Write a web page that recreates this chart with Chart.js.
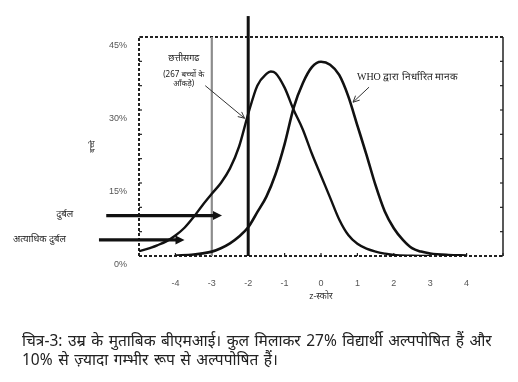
<!DOCTYPE html>
<html>
<head>
<meta charset="utf-8">
<script src="https://cdn.jsdelivr.net/npm/chart.js@4.4.1/dist/chart.umd.min.js"></script>
<style>
  html, body { margin: 0; padding: 0; background: #fff; }
  #wrap { position: relative; width: 518px; height: 382px; }
  #caption { position: absolute; left: 22px; top: 331px; font-family: "Noto Sans", "DejaVu Sans", sans-serif; font-size: 15.5px; line-height: 19px; word-spacing: 1.5px; color: #222; white-space: nowrap; }
</style>
</head>
<body>
<div id="wrap">
  <canvas id="c" width="518" height="382"></canvas>
  <div id="caption">चित्र-3: उम्र के मुताबिक बीएमआई। कुल मिलाकर 27% विद्यार्थी अल्पपोषित हैं और<br>10% से ज़्यादा गम्भीर रूप से अल्पपोषित हैं।</div>
</div>
<script>
// ---- data ----
const whoZ      = [-4, -3.5, -3, -2.75, -2.5, -2.25, -2, -1.75, -1.5, -1.25, -1, -0.75, -0.5, -0.25, 0, 0.25, 0.5, 0.75, 1, 1.25, 1.5, 1.75, 2, 2.25, 2.5, 2.75, 3, 3.5, 4];
const whoValues = [0.1, 0.3, 0.9, 1.6, 2.6, 4.0, 5.9, 9.0, 12.2, 16.8, 23.0, 30.5, 35.5, 38.8, 39.9, 39.3, 37.2, 32.8, 26.8, 20.8, 14.5, 9.2, 5.7, 3.3, 1.6, 0.9, 0.5, 0.2, 0.1];

const cgZ       = [-5, -4.75, -4.5, -4.25, -4, -3.75, -3.5, -3.25, -3, -2.75, -2.5, -2.25, -2, -1.75, -1.5, -1.38, -1.25, -1, -0.75, -0.5, -0.25, 0, 0.25, 0.5, 0.75, 1, 1.25, 1.5, 1.75, 2, 2.5, 3];
const cgValues  = [1.0, 1.5, 2.2, 3.0, 4.2, 5.8, 8.0, 10.5, 12.8, 15.0, 18.0, 22.5, 29.2, 35.0, 37.4, 37.9, 37.6, 34.6, 30.0, 26.0, 21.0, 16.5, 12.0, 7.5, 4.3, 2.5, 1.5, 0.9, 0.5, 0.2, 0.05, 0];

const xTickValues = [-4, -3, -2, -1, 0, 1, 2, 3, 4];
const yTickValues = [0, 15, 30, 45];
const severeCutoff = -3;
const moderateCutoff = -2;

const weakLabels   = ['दुर्बल', 'अत्याधिक दुर्बल'];
const weakLevels   = [8.3, 3.3];
const weakArrowEnd = [-2.72, -3.75];

// ---- build datasets ----
const toPts = (xs, ys) => xs.map((x, i) => ({ x: x, y: ys[i] }));

const annot = {
  weakArrowStart: [-5.9, -6.1],
  cgText: { x: -3.77, lines: [['छत्तीसगढ', 40.6, 9], ['(267 बच्चों के', 37.3, 8], ['आँकड़े)', 35.4, 8]] },
  cgArrow: { from: [-3.18, 35.0], to: [-2.1, 28.3] },
  whoText: { x: 2.38, y: 36.8, text: 'WHO द्वारा निर्धारित मानक' },
  whoArrow: { from: [1.32, 34.7], to: [0.88, 31.6] }
};

function arrowHead(ctx, x1, y1, x2, y2, size, filled) {
  const ang = Math.atan2(y2 - y1, x2 - x1);
  ctx.beginPath();
  ctx.moveTo(x2 - size * Math.cos(ang - 0.45), y2 - size * Math.sin(ang - 0.45));
  ctx.lineTo(x2, y2);
  ctx.lineTo(x2 - size * Math.cos(ang + 0.45), y2 - size * Math.sin(ang + 0.45));
  if (filled) { ctx.closePath(); ctx.fill(); } else { ctx.stroke(); }
}

const framePlugin = {
  id: 'frame',
  beforeDatasetsDraw(chart) {
    const { ctx, chartArea: a } = chart;
    ctx.save();
    ctx.strokeStyle = '#222';
    ctx.lineWidth = 2;
    ctx.setLineDash([3, 2]);
    ctx.beginPath();
    ctx.moveTo(a.left, a.bottom); ctx.lineTo(a.left, a.top); ctx.lineTo(a.right, a.top);
    ctx.moveTo(a.left, a.bottom); ctx.lineTo(a.right, a.bottom);
    ctx.stroke();
    ctx.setLineDash([]);
    ctx.lineWidth = 1.5;
    ctx.beginPath(); ctx.moveTo(a.right, a.top); ctx.lineTo(a.right, a.bottom); ctx.stroke();
    const ys = chart.scales.y;
    ctx.lineWidth = 1.2;
    for (let v = 0; v <= 45; v += 5) {
      const p = ys.getPixelForValue(v);
      ctx.beginPath(); ctx.moveTo(a.right, p); ctx.lineTo(a.right - 3, p); ctx.stroke();
      ctx.beginPath(); ctx.moveTo(a.left, p); ctx.lineTo(a.left + 3, p); ctx.stroke();
    }
    const xs = chart.scales.x;
    for (let v = -5; v <= 5; v += 1) {
      const p = xs.getPixelForValue(v);
      ctx.beginPath(); ctx.moveTo(p, a.bottom); ctx.lineTo(p, a.bottom - 3); ctx.stroke();
    }
    ctx.restore();
  },
  afterDatasetsDraw(chart) {
    const { ctx } = chart;
    const xs = chart.scales.x, ys = chart.scales.y;
    const px = v => xs.getPixelForValue(v), py = v => ys.getPixelForValue(v);
    ctx.save();
    ctx.strokeStyle = '#111'; ctx.fillStyle = '#111';
    weakLevels.forEach((lv, i) => {
      const y = py(lv), x1 = px(annot.weakArrowStart[i]), x2 = px(weakArrowEnd[i]);
      ctx.lineWidth = 3.2;
      ctx.beginPath(); ctx.moveTo(x1, y); ctx.lineTo(x2 - 5, y); ctx.stroke();
      ctx.beginPath(); ctx.moveTo(x2, y); ctx.lineTo(x2 - 9, y - 4.5); ctx.lineTo(x2 - 9, y + 4.5); ctx.closePath(); ctx.fill();
      ctx.font = '9.5px "Noto Sans", "DejaVu Sans", sans-serif';
      ctx.fillStyle = '#222'; ctx.textAlign = 'right'; ctx.textBaseline = 'middle';
      ctx.fillText(weakLabels[i], x1 - 33, y - 1);
      ctx.fillStyle = '#111';
    });
    ctx.fillStyle = '#222'; ctx.textAlign = 'center'; ctx.textBaseline = 'middle';
    annot.cgText.lines.forEach(([t, v, fs]) => {
      ctx.font = fs + 'px "Noto Sans", "DejaVu Sans", sans-serif';
      ctx.fillText(t, px(annot.cgText.x), py(v));
    });
    ctx.strokeStyle = '#333'; ctx.lineWidth = 1;
    let f = annot.cgArrow.from, t = annot.cgArrow.to;
    ctx.beginPath(); ctx.moveTo(px(f[0]), py(f[1])); ctx.lineTo(px(t[0]), py(t[1])); ctx.stroke();
    arrowHead(ctx, px(f[0]), py(f[1]), px(t[0]), py(t[1]), 7, false);
    ctx.font = '10px "Liberation Serif", "DejaVu Serif", serif';
    ctx.fillText(annot.whoText.text, px(annot.whoText.x), py(annot.whoText.y));
    f = annot.whoArrow.from; t = annot.whoArrow.to;
    ctx.beginPath(); ctx.moveTo(px(f[0]), py(f[1])); ctx.lineTo(px(t[0]), py(t[1])); ctx.stroke();
    arrowHead(ctx, px(f[0]), py(f[1]), px(t[0]), py(t[1]), 7, false);
    ctx.restore();
  }
};

new Chart(document.getElementById('c'), {
  type: 'line',
  data: {
    datasets: [
      { label: 'छत्तीसगढ', data: toPts(cgZ, cgValues), borderColor: '#111', borderWidth: 2.4, pointRadius: 0, cubicInterpolationMode: 'monotone', fill: false },
      { label: 'WHO', data: toPts(whoZ, whoValues), borderColor: '#111', borderWidth: 2.6, pointRadius: 0, cubicInterpolationMode: 'monotone', fill: false },
      { label: '-3', data: [{ x: severeCutoff, y: 0 }, { x: severeCutoff, y: 45 }], borderColor: '#8c8c8c', borderWidth: 2.2, pointRadius: 0 },
      { label: '-2', data: [{ x: moderateCutoff, y: 0 }, { x: moderateCutoff, y: 49.3 }], borderColor: '#111', borderWidth: 3, pointRadius: 0, clip: false }
    ]
  },
  options: {
    responsive: false,
    animation: false,
    layout: { padding: { top: 37, right: 15, left: 0, bottom: 0 } },
    plugins: { legend: { display: false }, tooltip: { enabled: false } },
    scales: {
      x: {
        type: 'linear', min: -5, max: 5,
        afterFit: s => { s.height = 126; },
        afterBuildTicks: s => { s.ticks = xTickValues.map(v => ({ value: v })); },
        grid: { display: false, drawTicks: false },
        border: { display: false },
        ticks: { padding: 22, color: '#555', font: { size: 9, family: '"Liberation Sans", Arial, sans-serif' }, maxRotation: 0 },
        title: { display: true, text: 'z-स्कोर', color: '#333', font: { size: 9, family: '"Noto Sans", "DejaVu Sans", sans-serif' }, padding: { top: 0, bottom: 80 } }
      },
      y: {
        type: 'linear', min: 0, max: 45,
        afterFit: s => { s.width = 139; },
        afterBuildTicks: s => { s.ticks = yTickValues.map(v => ({ value: v })); },
        grid: { display: false, drawTicks: false },
        border: { display: false },
        ticks: { padding: 12, labelOffset: 9, color: '#555', font: { size: 9, family: '"Liberation Sans", Arial, sans-serif' }, callback: v => v + '%' },
        title: { display: true, text: 'बच्चे', color: '#333', font: { size: 8, family: '"Noto Sans", "DejaVu Sans", sans-serif' }, padding: { top: 88, bottom: 0 } }
      }
    }
  },
  plugins: [framePlugin]
});
</script>
</body>
</html>
